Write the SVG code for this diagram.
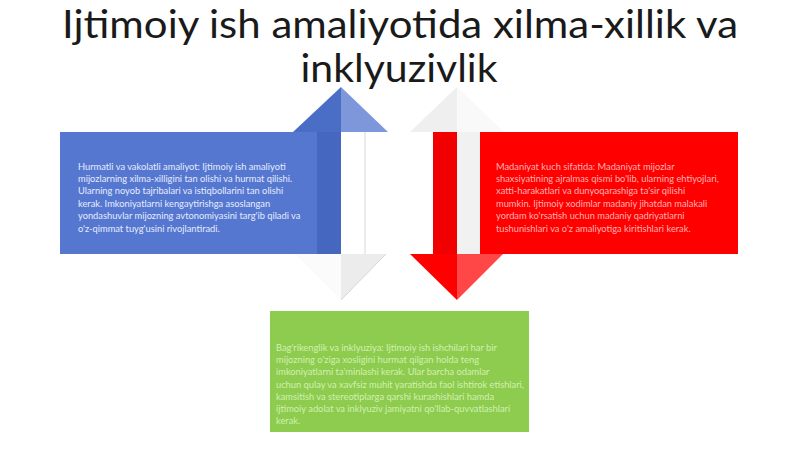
<svg xmlns="http://www.w3.org/2000/svg" width="800" height="449" viewBox="0 0 800 449">
<style>
.title{font-family:Lato,"Open Sans","DejaVu Sans",sans-serif;font-size:38px;fill:#1a1a1a;text-anchor:middle}
.body{font-family:Lato,"Liberation Sans",sans-serif;font-size:9.3px}
.bt{fill:#e6ecff}
.rt{fill:#ffb3b3}
.gt{fill:#d2f0b2}
</style>
<rect width="800" height="449" fill="#ffffff"/>
<g id="title">
<text class="title" x="400" y="37.5" textLength="676" lengthAdjust="spacingAndGlyphs">Ijtimoiy ish amaliyotida xilma-xillik va</text>
<text class="title" x="399" y="82" textLength="197" lengthAdjust="spacingAndGlyphs">inklyuzivlik</text>
</g>
<g id="arrows">
<polygon points="293,132 341,87 341,132" fill="#4a6dc6"/>
<polygon points="341,87 388,132 341,132" fill="#7d97da"/>
<rect x="317" y="132" width="24" height="122" fill="#4667c0"/>
<rect x="341" y="132" width="24" height="122" fill="#ffffff"/>
<line x1="365" y1="132" x2="365" y2="254" stroke="#d8d8d8" stroke-width="1"/>
<polygon points="295,254 341,254 341,300" fill="#fbfbfb"/>
<polygon points="341,254 386,254 341,300" fill="#ececec"/>
<line x1="386" y1="254" x2="341" y2="300" stroke="#d6d6d6" stroke-width="1"/>
<polygon points="410,132 457,87 457,132" fill="#efefef"/>
<polygon points="457,87 504,132 457,132" fill="#f9f9f9"/>
<rect x="433" y="132" width="24" height="123" fill="#f00000"/>
<rect x="457" y="132" width="23" height="123" fill="#f1f1f1"/>
<polygon points="410,254 457,254 457,300" fill="#ff0000"/>
<polygon points="457,254 503,254 457,300" fill="#ff4747"/>
</g>
<g id="blue-box">
<rect x="60" y="132" width="257" height="122" fill="#5577cf"/>
<text class="body bt">
<tspan x="78" y="169.5">Hurmatli va vakolatli amaliyot: Ijtimoiy ish amaliyoti</tspan>
<tspan x="78" y="181.9">mijozlarning xilma-xilligini tan olishi va hurmat qilishi.</tspan>
<tspan x="78" y="194.3">Ularning noyob tajribalari va istiqbollarini tan olishi</tspan>
<tspan x="78" y="206.7">kerak. Imkoniyatlarni kengaytirishga asoslangan</tspan>
<tspan x="78" y="219.1">yondashuvlar mijozning avtonomiyasini targ'ib qiladi va</tspan>
<tspan x="78" y="231.5">o'z-qimmat tuyg'usini rivojlantiradi.</tspan>
</text>
</g>
<g id="red-box">
<rect x="480" y="132" width="258" height="122" fill="#ff0000"/>
<text class="body rt">
<tspan x="496" y="169.5">Madaniyat kuch sifatida: Madaniyat mijozlar</tspan>
<tspan x="496" y="181.9">shaxsiyatining ajralmas qismi bo'lib, ularning ehtiyojlari,</tspan>
<tspan x="496" y="194.3">xatti-harakatlari va dunyoqarashiga ta'sir qilishi</tspan>
<tspan x="496" y="206.7">mumkin. Ijtimoiy xodimlar madaniy jihatdan malakali</tspan>
<tspan x="496" y="219.1">yordam ko'rsatish uchun madaniy qadriyatlarni</tspan>
<tspan x="496" y="231.5">tushunishlari va o'z amaliyotiga kiritishlari kerak.</tspan>
</text>
</g>
<g id="green-box">
<rect x="270" y="311" width="259" height="121" fill="#8dcc4e"/>
<text class="body gt">
<tspan x="276" y="351">Bag'rikenglik va inklyuziya: Ijtimoiy ish ishchilari har bir</tspan>
<tspan x="276" y="363.2">mijozning o'ziga xosligini hurmat qilgan holda teng</tspan>
<tspan x="276" y="375.4">imkoniyatlarni ta'minlashi kerak. Ular barcha odamlar</tspan>
<tspan x="276" y="387.6">uchun qulay va xavfsiz muhit yaratishda faol ishtirok etishlari,</tspan>
<tspan x="276" y="399.8">kamsitish va stereotiplarga qarshi kurashishlari hamda</tspan>
<tspan x="276" y="412">ijtimoiy adolat va inklyuziv jamiyatni qo'llab-quvvatlashlari</tspan>
<tspan x="276" y="424.2">kerak.</tspan>
</text>
</g>
</svg>
